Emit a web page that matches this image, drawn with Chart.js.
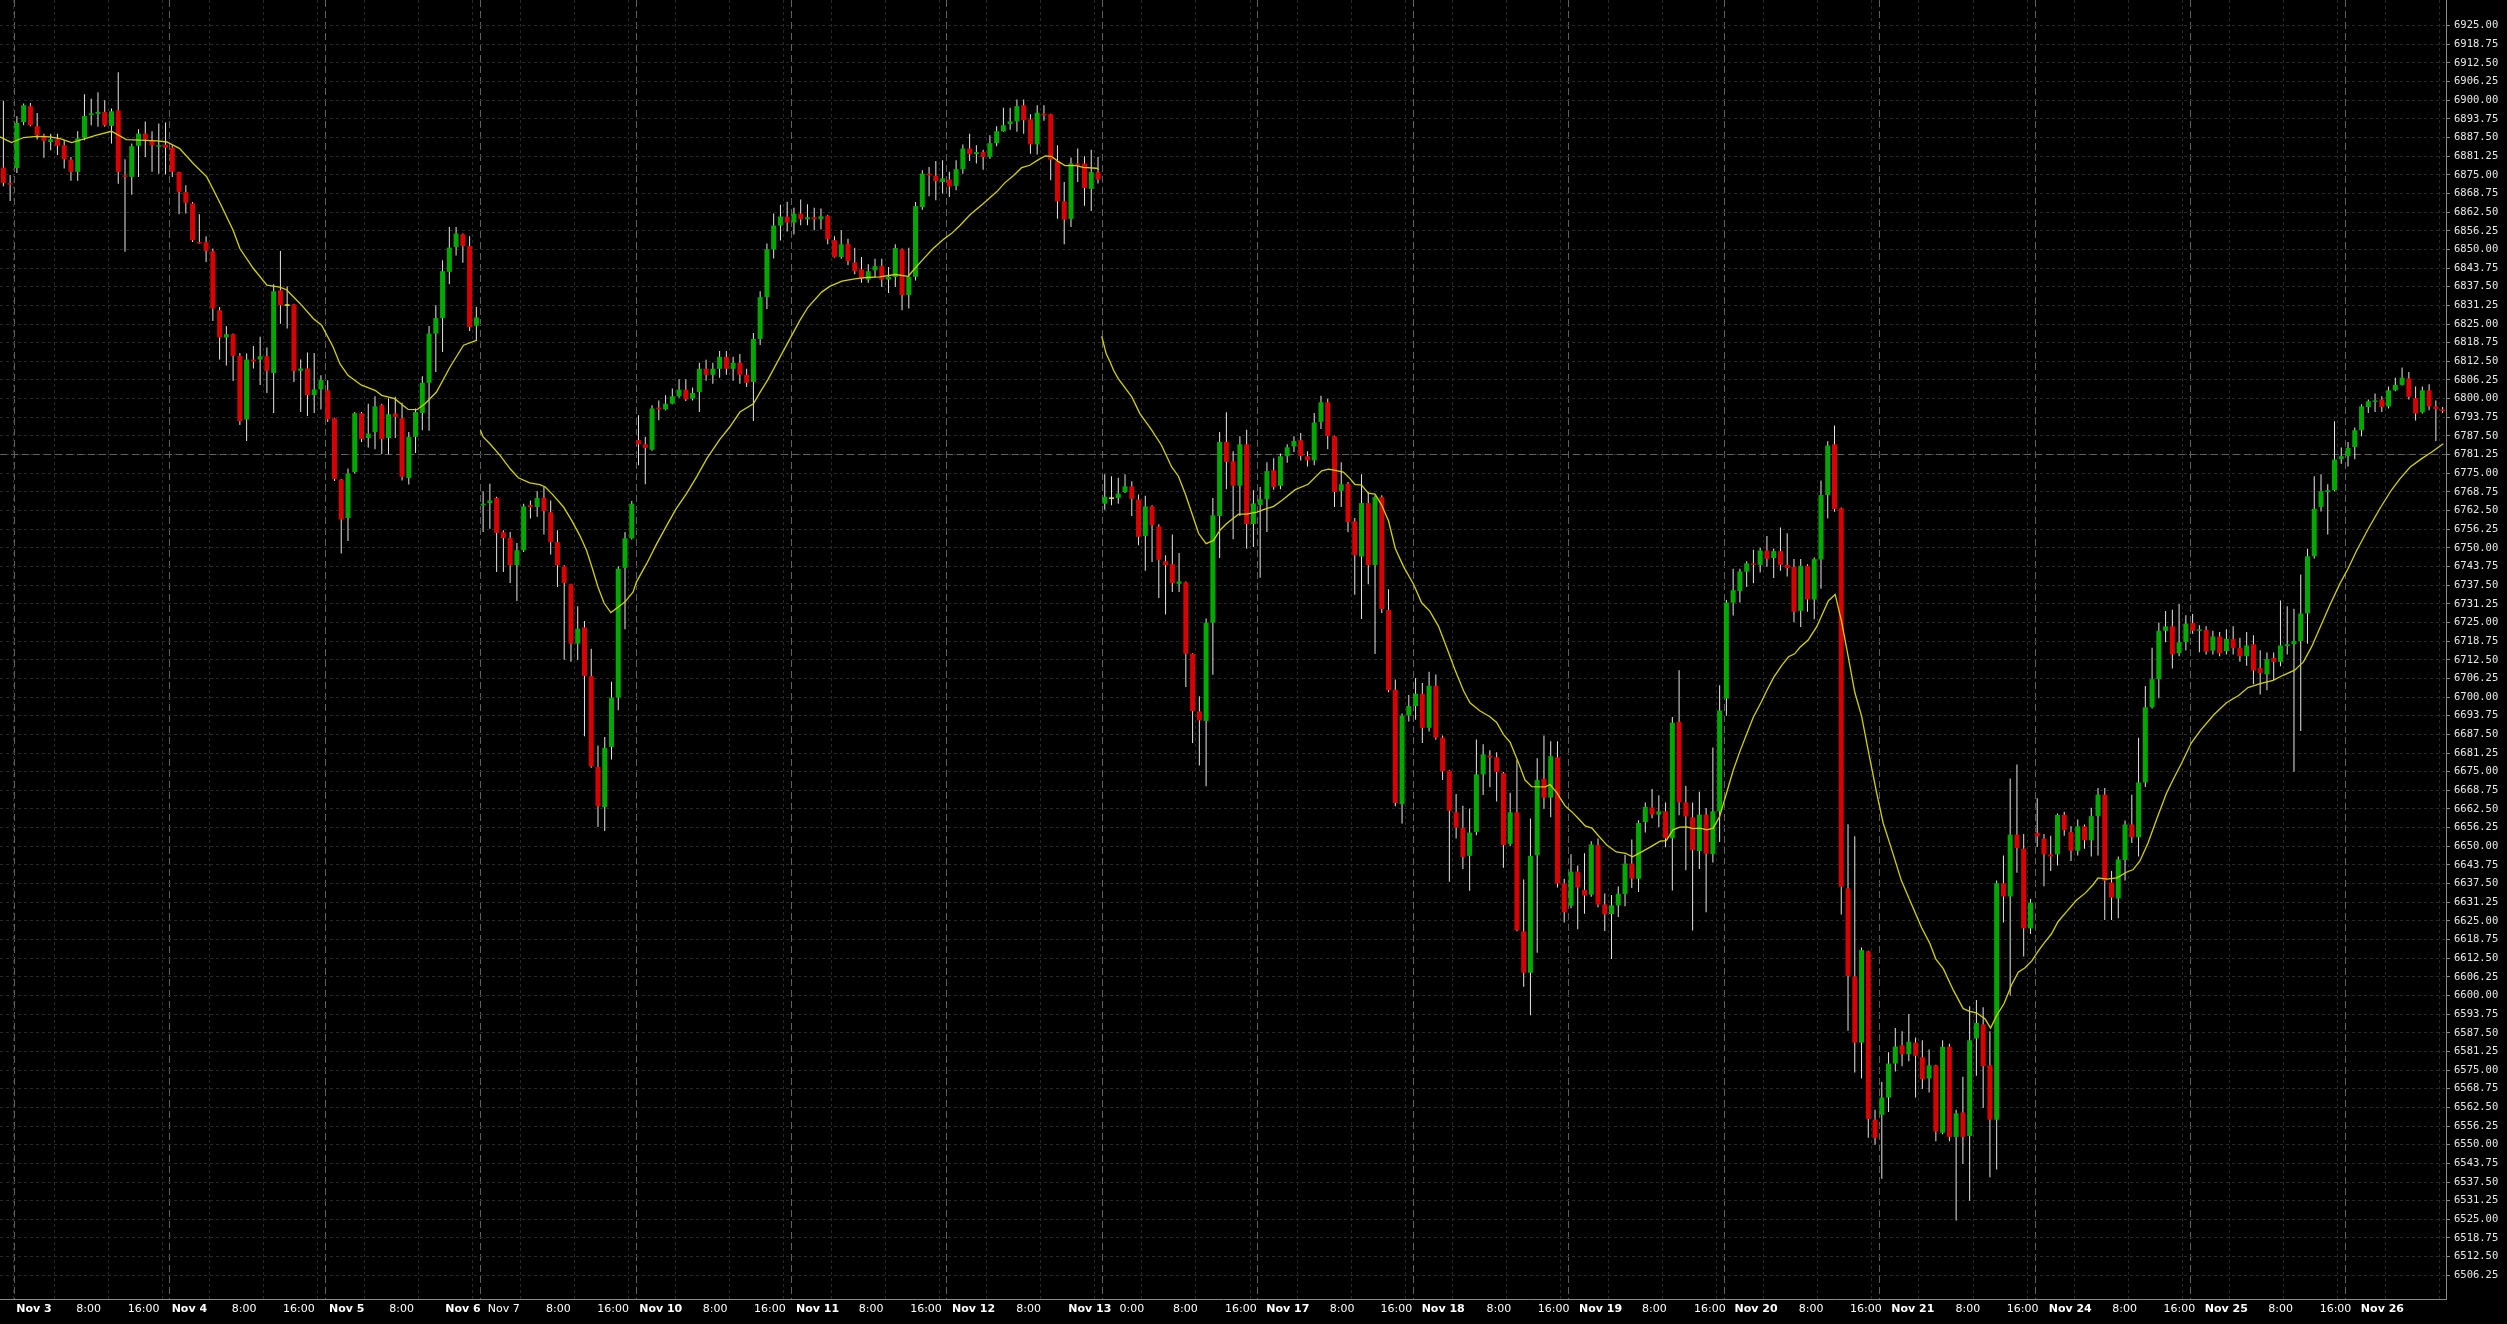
<!DOCTYPE html>
<html>
<head>
<meta charset="utf-8">
<script src="https://cdn.jsdelivr.net/npm/chart.js@4.4.1/dist/chart.umd.min.js"></script>
<style>
  html, body { margin: 0; padding: 0; background: #000; overflow: hidden; }
  canvas { display: block; background: #000; }
</style>
</head>
<body>
<canvas id="candles" width="2507" height="1324"></canvas>
<script>
// hourly bars, index 0..361
const opens = [
  6877.4, 6872.2, 6877.3, 6892.7, 6898.0, 6891.3, 6888.1, 6886.0, 6886.9, 6884.9,
  6880.1, 6876.0, 6887.4, 6895.0, 6895.4, 6896.1, 6891.4, 6896.6, 6874.7, 6874.3,
  6884.7, 6888.8, 6886.4, 6884.4, 6885.1, 6884.1, 6875.9, 6869.2, 6865.4, 6852.5,
  6852.4, 6849.4, 6829.6, 6820.5, 6821.6, 6814.3, 6793.0, 6813.1, 6813.1, 6814.2,
  6808.6, 6836.3, 6831.1, 6831.6, 6809.3, 6810.1, 6801.2, 6803.1, 6802.8, 6793.4,
  6772.9, 6760.0, 6775.4, 6795.1, 6786.8, 6788.8, 6797.8, 6786.8, 6795.0, 6793.4,
  6773.4, 6787.2, 6795.2, 6805.3, 6821.8, 6827.0, 6842.5, 6850.8, 6855.1, 6851.1,
  6824.4, 6764.2, 6765.0, 6766.7, 6755.2, 6753.3, 6744.2, 6749.2, 6764.3, 6763.7,
  6766.8, 6761.9, 6751.9, 6743.8, 6737.8, 6717.9, 6723.3, 6707.0, 6676.6, 6663.1,
  6683.3, 6699.8, 6743.3, 6753.2, 6786.1, 6784.7, 6782.9, 6797.0, 6796.4, 6798.3,
  6800.8, 6803.0, 6800.0, 6802.2, 6810.0, 6808.0, 6810.0, 6814.0, 6810.0, 6812.0,
  6808.0, 6805.6, 6820.0, 6834.0, 6850.0, 6858.0, 6861.0, 6859.0, 6862.0, 6860.1,
  6860.8, 6860.1, 6861.3, 6853.1, 6847.5, 6851.9, 6845.6, 6843.3, 6839.9, 6843.0,
  6844.4, 6839.9, 6840.8, 6850.0, 6834.7, 6840.8, 6864.2, 6875.4, 6874.7, 6872.6,
  6873.4, 6871.3, 6876.9, 6883.8, 6881.9, 6882.6, 6881.0, 6885.6, 6889.6, 6892.0,
  6892.9, 6898.3, 6893.6, 6885.2, 6895.5, 6895.3, 6879.5, 6866.1, 6860.2, 6878.8,
  6878.8, 6870.3, 6875.9, 6764.8, 6766.4, 6766.7, 6768.7, 6770.6, 6766.2, 6754.0,
  6763.9, 6757.2, 6745.5, 6744.5, 6737.9, 6738.5, 6714.5, 6695.2, 6692.0, 6724.9,
  6760.7, 6785.5, 6779.0, 6770.8, 6784.7, 6758.0, 6764.4, 6766.3, 6776.0, 6770.8,
  6780.7, 6784.0, 6786.1, 6780.7, 6779.3, 6792.2, 6798.8, 6787.4, 6769.1, 6771.5,
  6758.9, 6747.1, 6765.0, 6744.2, 6767.0, 6729.2, 6702.4, 6664.1, 6693.8, 6697.0,
  6701.1, 6689.7, 6703.8, 6686.4, 6675.3, 6661.4, 6656.1, 6646.8, 6654.8, 6674.1,
  6680.4, 6679.8, 6674.5, 6650.8, 6661.4, 6621.5, 6607.6, 6647.0, 6672.6, 6666.3,
  6679.8, 6637.5, 6630.1, 6641.5, 6635.4, 6633.8, 6650.4, 6630.5, 6627.3, 6630.2,
  6634.0, 6644.2, 6639.1, 6658.1, 6663.0, 6660.6, 6661.7, 6652.7, 6691.7, 6664.7,
  6659.7, 6648.4, 6660.6, 6647.4, 6661.7, 6699.5, 6731.6, 6735.5, 6742.0, 6744.8,
  6744.3, 6749.1, 6746.6, 6748.9, 6744.3, 6743.6, 6728.9, 6744.0, 6732.7, 6746.1,
  6767.7, 6784.7, 6763.3, 6635.9, 6606.4, 6584.2, 6614.8, 6558.4, 6560.0, 6565.8,
  6577.2, 6583.3, 6580.3, 6584.2, 6579.3, 6572.2, 6576.6, 6554.0, 6582.8, 6552.6,
  6560.8, 6552.9, 6585.6, 6590.3, 6576.6, 6558.4, 6637.6, 6633.2, 6653.9, 6649.2,
  6622.5, 6654.5, 6652.6, 6647.3, 6647.3, 6660.5, 6654.8, 6648.5, 6656.7, 6652.0,
  6660.1, 6667.3, 6637.9, 6632.5, 6645.4, 6657.3, 6653.0, 6671.4, 6696.6, 6706.0,
  6722.2, 6723.7, 6714.7, 6718.4, 6724.8, 6722.2, 6722.5, 6715.6, 6720.3, 6715.4,
  6719.4, 6716.5, 6713.7, 6717.7, 6709.7, 6707.6, 6713.1, 6711.8, 6717.1, 6717.7,
  6718.8, 6728.0, 6747.2, 6763.7, 6768.7, 6769.3, 6779.7, 6780.7, 6783.8, 6789.4,
  6797.2, 6798.9, 6799.7, 6797.4, 6802.8, 6804.6, 6806.8, 6800.2, 6795.4, 6802.8,
  6797.4, 6796.4
];
const highs = [
  6899.8, 6874.9, 6894.6, 6898.9, 6899.1, 6895.7, 6888.8, 6888.8, 6888.8, 6886.6,
  6881.0, 6889.6, 6902.0, 6900.5, 6902.7, 6900.0, 6897.2, 6909.4, 6880.2, 6885.5,
  6890.3, 6892.9, 6889.6, 6892.2, 6892.5, 6884.9, 6876.0, 6871.5, 6865.9, 6861.8,
  6854.4, 6850.3, 6830.7, 6824.3, 6821.8, 6815.3, 6815.1, 6817.6, 6820.7, 6817.1,
  6838.3, 6849.5, 6837.7, 6831.8, 6813.1, 6815.5, 6815.3, 6807.8, 6806.2, 6793.6,
  6773.1, 6776.6, 6795.5, 6795.5, 6798.3, 6800.8, 6798.3, 6800.1, 6800.6, 6798.6,
  6788.8, 6796.7, 6807.5, 6824.3, 6831.3, 6846.4, 6857.5, 6857.5, 6855.3, 6854.4,
  6830.7, 6769.0, 6771.5, 6767.1, 6755.9, 6755.3, 6751.6, 6764.8, 6765.9, 6769.0,
  6770.4, 6765.9, 6755.9, 6744.2, 6738.0, 6730.4, 6725.5, 6716.2, 6683.8, 6686.6,
  6705.1, 6743.8, 6755.3, 6765.7, 6794.4, 6787.2, 6797.8, 6799.4, 6801.1, 6803.4,
  6806.5, 6806.5, 6803.7, 6812.0, 6813.0, 6812.0, 6816.0, 6816.0, 6814.0, 6815.0,
  6810.0, 6822.0, 6836.0, 6852.0, 6862.0, 6865.0, 6866.0, 6864.0, 6866.7, 6865.1,
  6864.0, 6863.7, 6861.5, 6854.4, 6856.4, 6853.6, 6850.6, 6847.5, 6845.0, 6846.9,
  6846.9, 6844.1, 6851.7, 6850.3, 6850.6, 6865.9, 6876.5, 6877.6, 6879.6, 6879.9,
  6876.0, 6879.9, 6885.2, 6888.8, 6884.9, 6883.4, 6888.3, 6891.3, 6897.5, 6897.5,
  6900.2, 6900.2, 6895.3, 6898.3, 6898.3, 6895.5, 6884.9, 6872.6, 6880.8, 6883.8,
  6881.2, 6883.4, 6881.0, 6774.7, 6774.0, 6773.5, 6774.7, 6772.3, 6767.9, 6767.5,
  6764.3, 6757.9, 6747.5, 6754.5, 6748.3, 6738.7, 6714.7, 6700.3, 6726.3, 6766.7,
  6788.8, 6795.4, 6782.4, 6787.4, 6789.6, 6769.3, 6770.4, 6778.7, 6780.0, 6781.6,
  6784.7, 6787.4, 6788.5, 6782.4, 6795.2, 6801.0, 6800.0, 6787.6, 6778.7, 6772.1,
  6760.0, 6774.7, 6768.7, 6767.6, 6767.6, 6736.1, 6705.9, 6694.5, 6700.7, 6706.4,
  6704.7, 6708.5, 6707.6, 6687.1, 6675.5, 6667.5, 6663.6, 6662.7, 6685.8, 6684.2,
  6682.2, 6681.5, 6674.9, 6667.9, 6679.1, 6638.9, 6659.3, 6679.5, 6687.1, 6685.2,
  6685.2, 6639.1, 6647.3, 6643.6, 6647.7, 6651.7, 6652.6, 6634.2, 6633.7, 6636.5,
  6647.2, 6652.3, 6658.7, 6664.7, 6669.2, 6667.1, 6664.7, 6693.3, 6709.0, 6670.3,
  6664.7, 6668.3, 6662.8, 6683.1, 6704.0, 6732.5, 6743.0, 6743.0, 6745.5, 6749.4,
  6750.0, 6754.0, 6749.8, 6756.8, 6754.9, 6746.3, 6746.3, 6744.5, 6746.8, 6772.6,
  6785.7, 6791.0, 6763.5, 6657.4, 6653.4, 6616.1, 6615.0, 6561.7, 6571.0, 6581.0,
  6589.1, 6588.0, 6593.8, 6585.9, 6585.0, 6581.9, 6576.8, 6585.0, 6583.8, 6561.7,
  6572.8, 6596.4, 6598.5, 6596.1, 6588.0, 6638.5, 6646.9, 6672.7, 6677.4, 6654.1,
  6632.3, 6666.1, 6654.1, 6653.5, 6661.0, 6661.6, 6656.7, 6659.0, 6657.3, 6662.9,
  6669.5, 6669.5, 6641.7, 6646.6, 6658.6, 6667.3, 6686.4, 6703.7, 6716.5, 6725.0,
  6728.8, 6729.3, 6731.2, 6727.4, 6727.8, 6724.1, 6723.7, 6722.2, 6721.8, 6722.7,
  6723.7, 6719.9, 6721.8, 6720.7, 6715.7, 6714.9, 6714.9, 6732.4, 6730.4, 6729.6,
  6741.1, 6749.7, 6774.0, 6774.7, 6771.3, 6792.4, 6783.6, 6785.5, 6790.3, 6798.1,
  6799.7, 6801.7, 6800.8, 6804.1, 6807.0, 6810.4, 6808.9, 6804.1, 6804.1, 6804.8,
  6799.4, 6797.2
];
const lows = [
  6871.2, 6866.2, 6875.6, 6891.6, 6891.3, 6886.8, 6880.7, 6883.2, 6881.6, 6877.1,
  6873.0, 6873.0, 6886.6, 6891.6, 6891.1, 6891.1, 6885.5, 6872.0, 6849.2, 6868.3,
  6874.3, 6881.0, 6876.0, 6875.4, 6875.1, 6874.3, 6861.8, 6862.0, 6852.5, 6851.9,
  6845.8, 6826.0, 6813.1, 6811.1, 6805.9, 6791.2, 6785.8, 6810.1, 6804.6, 6801.9,
  6795.2, 6825.1, 6823.5, 6805.6, 6795.5, 6794.2, 6795.2, 6796.4, 6792.2, 6772.4,
  6748.1, 6752.3, 6774.9, 6785.5, 6783.6, 6783.0, 6781.4, 6781.4, 6786.8, 6772.6,
  6771.2, 6781.8, 6789.4, 6789.2, 6808.9, 6815.6, 6838.3, 6848.0, 6845.5, 6822.7,
  6819.6, 6755.3, 6756.4, 6741.9, 6741.9, 6738.2, 6732.2, 6748.6, 6759.8, 6760.4,
  6754.5, 6747.8, 6736.9, 6712.5, 6711.8, 6712.5, 6686.9, 6676.3, 6656.5, 6655.1,
  6679.1, 6695.6, 6722.7, 6752.8, 6777.7, 6771.3, 6782.5, 6792.8, 6796.1, 6798.1,
  6800.3, 6799.2, 6799.4, 6795.5, 6806.0, 6805.0, 6807.0, 6808.0, 6806.0, 6805.0,
  6803.9, 6792.5, 6818.0, 6830.0, 6847.0, 6853.0, 6856.0, 6855.0, 6858.1, 6858.1,
  6856.4, 6856.7, 6851.7, 6847.3, 6846.9, 6844.7, 6841.7, 6838.8, 6838.8, 6840.8,
  6837.4, 6835.4, 6837.4, 6829.6, 6830.2, 6839.6, 6863.3, 6867.8, 6866.5, 6868.7,
  6867.6, 6869.8, 6875.4, 6879.6, 6878.8, 6876.7, 6880.4, 6884.6, 6889.4, 6890.1,
  6889.4, 6888.8, 6882.1, 6881.8, 6893.1, 6873.2, 6860.3, 6851.7, 6857.5, 6872.6,
  6864.6, 6862.9, 6872.1, 6762.8, 6764.3, 6764.8, 6768.4, 6760.7, 6750.9, 6742.3,
  6745.3, 6733.2, 6727.7, 6735.2, 6735.2, 6703.4, 6684.6, 6677.1, 6670.1, 6707.5,
  6746.6, 6769.6, 6752.9, 6760.7, 6749.7, 6750.3, 6740.0, 6755.3, 6769.5, 6769.6,
  6778.5, 6782.1, 6779.3, 6777.3, 6777.7, 6789.8, 6783.0, 6763.7, 6763.7, 6755.2,
  6734.3, 6726.2, 6737.8, 6714.4, 6728.2, 6701.6, 6663.4, 6657.6, 6691.8, 6692.4,
  6684.6, 6688.5, 6685.7, 6672.2, 6638.1, 6652.6, 6642.4, 6635.1, 6653.7, 6667.2,
  6669.8, 6665.0, 6642.8, 6650.0, 6621.5, 6602.9, 6593.4, 6614.3, 6662.6, 6659.7,
  6636.2, 6624.5, 6629.2, 6622.2, 6627.4, 6633.1, 6629.6, 6621.6, 6612.2, 6626.3,
  6629.9, 6636.0, 6634.7, 6654.6, 6659.4, 6656.4, 6649.7, 6635.2, 6660.4, 6642.0,
  6621.8, 6642.4, 6627.9, 6644.6, 6651.4, 6693.7, 6727.3, 6731.7, 6736.9, 6738.1,
  6741.7, 6743.7, 6739.9, 6742.3, 6740.4, 6725.1, 6723.5, 6728.6, 6726.1, 6736.3,
  6759.8, 6762.1, 6627.1, 6588.2, 6574.2, 6572.2, 6552.3, 6550.0, 6538.6, 6561.0,
  6574.5, 6576.3, 6578.0, 6565.8, 6568.7, 6567.5, 6551.2, 6553.5, 6551.2, 6524.6,
  6543.5, 6531.2, 6573.1, 6562.3, 6539.1, 6541.7, 6624.5, 6600.0, 6641.1, 6613.1,
  6620.6, 6649.8, 6636.6, 6641.7, 6643.6, 6653.5, 6645.1, 6646.9, 6649.2, 6646.6,
  6646.9, 6625.3, 6625.3, 6625.9, 6638.5, 6651.1, 6646.6, 6669.9, 6696.2, 6699.6,
  6718.4, 6709.6, 6713.7, 6715.6, 6721.2, 6715.0, 6714.3, 6714.3, 6713.7, 6714.3,
  6714.3, 6711.8, 6710.5, 6704.3, 6700.9, 6702.3, 6705.6, 6710.3, 6714.3, 6675.0,
  6688.6, 6717.9, 6746.4, 6762.2, 6754.5, 6769.0, 6778.2, 6777.3, 6779.7, 6787.4,
  6795.2, 6795.5, 6795.5, 6796.7, 6802.5, 6804.4, 6799.7, 6792.7, 6795.0, 6796.1,
  6785.8, 6795.2
];
const closes = [
  6872.3, 6871.7, 6892.4, 6898.3, 6891.6, 6888.3, 6886.4, 6886.9, 6884.7, 6880.2,
  6876.0, 6887.2, 6894.7, 6895.6, 6896.1, 6891.6, 6896.3, 6876.0, 6874.3, 6884.6,
  6888.8, 6886.8, 6884.9, 6884.9, 6884.1, 6876.0, 6869.3, 6865.6, 6853.1, 6852.0,
  6849.5, 6830.2, 6820.5, 6821.6, 6814.3, 6792.5, 6813.1, 6812.4, 6814.2, 6809.3,
  6836.0, 6831.3, 6831.1, 6809.3, 6810.1, 6801.2, 6803.1, 6806.2, 6793.1, 6773.1,
  6759.5, 6774.9, 6795.1, 6786.5, 6788.3, 6797.4, 6786.5, 6794.8, 6793.9, 6773.8,
  6787.2, 6795.5, 6805.3, 6821.8, 6827.0, 6842.7, 6850.6, 6855.3, 6851.1, 6824.0,
  6827.2, 6764.8, 6765.9, 6755.0, 6753.3, 6744.2, 6749.2, 6763.9, 6763.6, 6766.7,
  6762.4, 6752.0, 6744.2, 6738.2, 6717.9, 6722.9, 6707.1, 6676.8, 6663.4, 6683.0,
  6699.8, 6743.0, 6753.2, 6764.8, 6784.7, 6783.5, 6796.7, 6796.4, 6798.3, 6800.8,
  6803.0, 6799.8, 6801.9, 6810.0, 6808.0, 6810.0, 6814.0, 6810.0, 6812.0, 6808.0,
  6805.3, 6820.0, 6834.0, 6850.0, 6858.0, 6861.0, 6859.0, 6862.0, 6860.1, 6860.8,
  6860.1, 6861.1, 6853.4, 6847.5, 6851.7, 6846.1, 6842.7, 6840.2, 6842.7, 6844.4,
  6839.9, 6840.8, 6850.5, 6834.7, 6840.8, 6864.5, 6875.4, 6874.8, 6872.9, 6873.8,
  6871.1, 6876.9, 6883.8, 6881.9, 6882.6, 6881.0, 6885.6, 6889.6, 6891.6, 6892.9,
  6898.0, 6893.3, 6885.2, 6895.8, 6894.9, 6880.1, 6866.1, 6860.0, 6878.8, 6878.1,
  6870.6, 6875.9, 6873.4, 6767.1, 6766.4, 6768.2, 6770.6, 6766.4, 6753.7, 6763.9,
  6757.6, 6746.0, 6744.2, 6738.2, 6738.8, 6714.5, 6695.3, 6692.2, 6724.9, 6760.9,
  6785.5, 6778.8, 6770.8, 6784.7, 6758.0, 6764.9, 6766.3, 6775.7, 6770.4, 6780.7,
  6783.7, 6785.8, 6780.8, 6779.3, 6792.0, 6798.8, 6787.5, 6768.7, 6771.3, 6758.7,
  6747.5, 6765.0, 6744.2, 6767.0, 6729.5, 6702.3, 6664.5, 6693.8, 6697.0, 6701.1,
  6689.7, 6703.8, 6686.4, 6675.1, 6661.9, 6656.3, 6646.4, 6654.6, 6674.1, 6680.8,
  6679.8, 6674.9, 6650.4, 6661.4, 6621.9, 6607.6, 6646.8, 6672.2, 6666.3, 6680.2,
  6637.5, 6627.9, 6641.5, 6636.2, 6633.5, 6650.6, 6630.5, 6627.2, 6630.2, 6634.1,
  6644.2, 6639.2, 6657.8, 6663.2, 6660.6, 6661.7, 6652.7, 6691.4, 6664.7, 6660.0,
  6648.7, 6660.6, 6647.5, 6661.7, 6695.5, 6731.7, 6735.8, 6742.1, 6744.8, 6744.3,
  6749.1, 6746.3, 6748.9, 6744.3, 6743.2, 6728.6, 6744.0, 6732.7, 6746.2, 6767.7,
  6784.3, 6763.0, 6636.4, 6606.6, 6584.2, 6615.2, 6558.6, 6552.3, 6565.8, 6577.2,
  6582.9, 6580.3, 6584.5, 6579.8, 6571.9, 6576.6, 6554.4, 6582.8, 6552.6, 6560.5,
  6552.6, 6585.0, 6590.8, 6576.3, 6558.4, 6637.6, 6633.2, 6653.9, 6649.4, 6622.5,
  6631.1, 6653.3, 6647.3, 6646.6, 6660.5, 6655.4, 6648.5, 6656.7, 6652.0, 6660.1,
  6667.3, 6638.5, 6632.8, 6645.6, 6657.3, 6653.0, 6671.4, 6696.6, 6706.0, 6722.2,
  6723.7, 6714.3, 6718.4, 6724.6, 6722.2, 6722.7, 6715.2, 6720.3, 6714.7, 6719.5,
  6716.5, 6713.7, 6717.3, 6708.9, 6708.1, 6712.7, 6711.8, 6717.3, 6717.7, 6718.8,
  6728.0, 6747.2, 6763.1, 6769.0, 6769.3, 6779.6, 6780.7, 6783.5, 6789.4, 6797.4,
  6799.1, 6799.4, 6797.2, 6802.8, 6804.6, 6807.0, 6800.6, 6795.0, 6802.8, 6797.4,
  6796.5, 6795.8
];

// moving average (bar position, value); null = break
const maBars = [
  -0.5, 1.2, 3.0, 4.9, 6.9, 8.4, 10.1, 11.6, 13.8, 16.0, 18.2, 20.2, 22.7, 24.2, 26.1, 28.1, 30.1, 32.1, 34.0, 35.0,
  37.0, 39.0, 40.9, 41.9, 43.9, 45.9, 47.1, 48.8, 49.8, 51.0, 53.0, 55.0, 56.0, 57.9, 59.9, 61.2, 62.4, 64.1, 66.1, 68.1,
  70.1, 70.4,
  70.6, 71.0, 72.0, 73.5, 75.0, 76.2, 77.9, 79.4, 80.2, 81.4, 82.9, 84.1, 85.3, 86.3, 87.1, 88.0, 88.9, 89.9, 91.0, 92.0,
  93.2, 93.7, 95.2, 96.7, 98.2, 99.6, 101.1, 102.6, 104.1, 106.0, 107.5, 109.0, 111.0, 112.0, 113.1, 117.9, 119.1, 121.1,
  122.3, 124.1, 126.0, 127.8, 129.7, 132.0, 133.9, 134.9, 136.2, 137.6, 139.1, 140.3, 141.6, 143.1, 145.0, 147.0, 148.2,
  149.5, 150.7, 151.9, 153.2, 154.2, 155.1, 156.1, 157.1, 158.8, 159.8, 161.8, 162.1, 162.3,
  162.55, 163.2, 163.8, 164.3, 165.0, 167.0, 168.2, 169.9, 171.4, 172.9, 173.9, 174.9, 175.9, 176.9, 178.0, 179.1, 180.05,
  181.0, 182.8, 184.0, 185.5, 186.5, 188.0, 189.2, 191.2, 193.1, 195.1, 196.1, 197.1, 198.3, 199.3, 200.0, 201.0, 202.0,
  203.0, 204.0, 205.0, 206.0, 207.2, 208.7, 209.9, 211.1, 212.4, 213.6, 214.8, 216.1, 217.05, 218.5, 220.0, 221.0, 222.0,
  223.0, 224.2, 225.2, 226.2, 228.2, 228.9, 229.9, 231.1, 232.1, 233.1, 234.1, 235.1, 236.0, 237.3, 238.7, 240.1, 241.1,
  242.2, 243.7, 245.2, 246.1, 247.1, 248.1, 249.1, 250.1, 251.1, 252.1, 253.05, 254.0, 255.0, 256.0, 257.0, 258.0, 259.0,
  260.2, 261.0, 262.0, 263.2, 264.2, 265.1, 265.9, 267.1, 268.35, 270.1, 271.1, 272.05, 273.0, 274.0, 275.0, 276.2, 277.2,
  278.2, 279.2, 280.9, 282.4, 283.9, 285.1, 286.0, 287.1, 288.6, 290.05, 291.0, 292.0, 293.3, 294.1, 295.0, 296.1, 297.2,
  298.2, 299.2, 300.2, 301.2, 302.1, 303.1, 304.1, 305.35, 306.8, 308.1, 309.3, 310.0, 311.3, 312.8, 314.2, 315.2, 316.2,
  317.4, 318.7, 320.1, 321.1, 322.4, 323.8, 325.1, 327.1, 329.0, 330.8, 332.2, 334.0, 335.9, 337.4, 339.1, 340.4, 341.6,
  343.1, 344.3, 345.8, 347.0, 348.3, 350.0, 351.7, 353.4, 354.7, 356.2, 357.9, 359.4, 361.1
];
const maValues = [
  6887.7, 6885.8, 6887.5, 6887.9, 6887.7, 6887.1, 6885.8, 6886.8, 6888.3, 6889.6, 6886.8, 6886.6, 6886.4, 6886.0, 6883.8, 6878.8, 6874.3, 6865.4, 6856.4, 6850.3,
  6843.6, 6838.0, 6837.4, 6836.5, 6831.9, 6826.8, 6824.6, 6817.3, 6811.7, 6807.8, 6804.5, 6802.8, 6801.1, 6800.0, 6796.4, 6796.3, 6798.3, 6802.2, 6810.6, 6817.9,
  6819.6, null,
  6789.4, 6787.2, 6784.9, 6781.0, 6776.5, 6773.5, 6771.8, 6771.2, 6770.4, 6767.6, 6763.7, 6759.2, 6754.2, 6749.2, 6743.6, 6736.9, 6731.5, 6728.3, 6730.2, 6731.9,
  6735.2, 6738.6, 6744.7, 6751.4, 6757.6, 6763.2, 6768.2, 6773.8, 6779.9, 6786.3, 6790.5, 6795.5, 6798.3, 6802.2, 6806.2, 6826.3, 6830.7, 6835.7,
  6837.6, 6839.4, 6840.1, 6840.6, 6840.8, 6841.6, 6841.0, 6843.6, 6846.9, 6850.3, 6853.3, 6855.3, 6858.1, 6861.7, 6865.3, 6869.3, 6872.3,
  6874.8, 6877.4, 6878.2, 6880.1, 6881.3, 6881.2, 6879.5, 6878.1, 6878.1, 6877.5, 6877.2, 6876.8, null,
  6820.9, 6815.1, 6812.3, 6809.5, 6806.7, 6800.6, 6795.0, 6789.6, 6784.4, 6777.1, 6774.0, 6768.2, 6761.5, 6754.8, 6751.4, 6752.5, 6755.9,
  6758.1, 6761.3, 6761.3, 6762.0, 6762.8, 6763.9, 6765.9, 6769.5, 6771.3, 6775.8, 6776.4, 6776.0, 6775.4, 6773.2, 6771.3, 6771.0, 6768.3,
  6768.0, 6764.3, 6759.0, 6749.8, 6743.8, 6737.8, 6731.6, 6728.8, 6723.7, 6716.6, 6709.3, 6702.1, 6698.1, 6695.4, 6693.4, 6691.5, 6687.5,
  6684.8, 6678.2, 6672.2, 6670.0, 6669.9, 6670.7, 6668.0, 6663.6, 6661.6, 6659.3, 6656.8, 6656.1, 6653.7, 6650.4, 6648.1, 6647.6, 6646.5,
  6647.8, 6649.7, 6651.7, 6651.9, 6655.5, 6656.4, 6656.5, 6655.9, 6656.1, 6655.5, 6656.1, 6660.0, 6667.7, 6675.4, 6681.8, 6687.6, 6693.3,
  6698.5, 6702.3, 6706.6, 6710.6, 6713.5, 6714.5, 6716.7, 6719.1, 6723.5, 6732.3, 6734.4, 6725.3, 6713.9, 6701.6, 6693.7, 6679.7, 6668.3,
  6657.8, 6650.8, 6638.5, 6630.6, 6622.7, 6617.5, 6612.2, 6609.0, 6601.7, 6595.6, 6594.7, 6594.2, 6592.1, 6589.1, 6593.3, 6597.3, 6603.5,
  6607.8, 6609.3, 6611.6, 6615.0, 6617.8, 6620.6, 6624.8, 6628.1, 6631.9, 6634.3, 6637.2, 6639.4, 6639.0, 6639.4, 6641.3, 6642.2, 6645.1,
  6651.1, 6659.2, 6667.6, 6672.3, 6678.0, 6684.6, 6688.7, 6694.0, 6698.1, 6700.5, 6703.2, 6704.5, 6705.6, 6707.3, 6709.0, 6711.8, 6716.8,
  6724.6, 6730.8, 6738.0, 6743.0, 6749.2, 6756.4, 6763.1, 6769.3, 6773.2, 6777.1, 6779.9, 6782.1, 6784.9
];

// time axis: label text and the bar position where each label starts
const tickLabels = [
  'Nov 3', '8:00', '16:00', 'Nov 4', '8:00', '16:00', 'Nov 5', '8:00', 'Nov 6', 'Nov 7', '8:00', '16:00',
  'Nov 10', '8:00', '16:00', 'Nov 11', '8:00', '16:00', 'Nov 12', '8:00', 'Nov 13', '0:00', '8:00', '16:00',
  'Nov 17', '8:00', '16:00', 'Nov 18', '8:00', '16:00', 'Nov 19', '8:00', '16:00', 'Nov 20', '8:00', '16:00',
  'Nov 21', '8:00', '16:00', 'Nov 24', '8:00', '16:00', 'Nov 25', '8:00', '16:00', 'Nov 26'
];
const tickBars = [
  1.9, 10.8, 18.4, 24.9, 33.8, 41.4, 48.2, 57.1, 65.4, 71.7, 80.3, 87.9,
  94.1, 103.5, 111.1, 117.3, 126.6, 134.2, 140.4, 149.9, 157.6, 165.2, 173.1, 180.8,
  186.9, 196.3, 203.8, 209.9, 219.5, 227.1, 233.2, 242.5, 250.2, 256.2, 265.7, 273.3,
  279.4, 288.9, 296.5, 302.7, 312.1, 319.7, 325.8, 335.2, 342.8, 348.9
];
const gridBars = [
  1.5, 7.5, 15.5, 23.5, 30.5, 38.5, 46.5, 53.5, 61.5, 69.5, 76.5, 84.5, 92.5, 99.5, 107.5, 115.5,
  122.5, 130.5, 138.5, 145.5, 153.5, 161.5, 168.5, 176.5, 184.5, 191.5, 199.5, 207.5, 214.5, 222.5,
  230.5, 237.5, 245.5, 253.5, 260.5, 268.5, 276.5, 283.5, 291.5, 299.5, 306.5, 314.5, 322.5, 329.5,
  337.5, 345.5, 352.5, 360.5
];
const daySeparators = [
  1.6, 24.6, 47.6, 70.6, 93.7, 116.7, 139.6, 162.7, 185.6, 208.7, 231.6, 254.7, 277.6, 300.8, 323.7, 346.7
];
const priceFirst = 6506.25, priceLast = 6925.0, priceStep = 6.25;
const markedPrice = 6781.25;

document.addEventListener('DOMContentLoaded', () => {
    const up = '#00a800', down = '#d80000', flat = '#f0f000';
    const yMin = 6498.3, yMax = 6933.58;

    const xTicks = gridBars.map(v => ({ value: v, label: '', grid: true }))
        .concat(tickBars.map((v, i) => ({ value: v, label: tickLabels[i], grid: false })))
        .sort((a, b) => a.value - b.value);

    const priceTicks = [];
    for (let p = priceFirst; p <= priceLast + 0.001; p += priceStep) priceTicks.push({ value: p });

    const noPad = s => { s.paddingLeft = 0; s.paddingRight = 0; s.paddingTop = 0; s.paddingBottom = 0; };

    const bodyColor = ctx => {
        const i = ctx.dataIndex;
        if (i === undefined) return up;
        if (closes[i] > opens[i]) return up;
        if (closes[i] < opens[i]) return down;
        return flat;
    };

    const ctx = document.getElementById('candles').getContext('2d');
    const chart = new Chart(ctx, {
        type: 'bar',
        data: {
            datasets: [{
                type: 'line',
                label: 'MA',
                data: maBars.map((b, i) => ({ x: b, y: maValues[i] })),
                borderColor: '#d2d200',
                borderWidth: 1.3,
                pointRadius: 0,
                tension: 0,
                spanGaps: false,
                order: 0,
                xAxisID: 'x', yAxisID: 'y'
            }, {
                label: 'body',
                data: opens.map((o, i) => ({ x: i, y: [o, closes[i]] })),
                backgroundColor: bodyColor,
                barThickness: 5,
                minBarLength: 1.5,
                grouped: false,
                borderWidth: 0,
                inflateAmount: 0,
                order: 1,
                xAxisID: 'x', yAxisID: 'y'
            }, {
                label: 'wick',
                data: lows.map((l, i) => ({
                    x: i,
                    y: [Math.min(l, opens[i], closes[i]), Math.max(highs[i], opens[i], closes[i])]
                })),
                backgroundColor: '#e6e6e6',
                barThickness: 1,
                grouped: false,
                borderWidth: 0,
                inflateAmount: 0,
                order: 2,
                xAxisID: 'x', yAxisID: 'y'
            }]
        },
        options: {
            responsive: false,
            devicePixelRatio: 1,
            animation: false,
            events: [],
            layout: { padding: 0 },
            plugins: { legend: { display: false }, tooltip: { enabled: false } },
            scales: {
                x: {
                    type: 'linear',
                    position: 'bottom',
                    offset: false,
                    bounds: 'data',
                    min: -0.5, max: 361.5,
                    afterBuildTicks: s => { s.ticks = xTicks.map(t => ({ value: t.value })); },
                    afterFit: s => { s.height = 25; noPad(s); },
                    grid: {
                        offset: false,
                        color: c => (xTicks[c.index] && xTicks[c.index].grid) ? '#282828' : 'rgba(0,0,0,0)',
                        lineWidth: 1,
                        drawTicks: false
                    },
                    border: { display: true, color: '#8c8c8c', width: 1, dash: [3, 3] },
                    ticks: {
                        autoSkip: false,
                        maxRotation: 0,
                        minRotation: 0,
                        align: 'start',
                        padding: 4,
                        color: '#ffffff',
                        font: c => {
                            const t = xTicks[c.index];
                            const bold = t && /^Nov/.test(t.label) && t.label !== 'Nov 7';
                            return { family: 'DejaVu Sans', size: 11, weight: bold ? 'bold' : 'normal' };
                        },
                        callback: (v, i) => xTicks[i] ? xTicks[i].label : ''
                    }
                },
                xs: {
                    type: 'linear',
                    position: 'bottom',
                    offset: false,
                    bounds: 'data',
                    min: -0.5, max: 361.5,
                    afterBuildTicks: s => { s.ticks = daySeparators.map(v => ({ value: v })); },
                    afterFit: s => { s.height = 0; noPad(s); },
                    grid: { offset: false, color: '#606060', lineWidth: 1, drawTicks: false },
                    border: { display: false, dash: [7, 4] },
                    ticks: { display: false }
                },
                y: {
                    type: 'linear',
                    position: 'right',
                    min: yMin, max: yMax,
                    afterBuildTicks: s => { s.ticks = priceTicks.slice(); },
                    afterFit: s => { s.width = 61; noPad(s); },
                    grid: { color: '#282828', lineWidth: 1, drawTicks: true, tickLength: 4, tickColor: '#8c8c8c' },
                    border: { display: true, color: '#8c8c8c', width: 1, dash: [3, 3] },
                    ticks: {
                        padding: 4,
                        color: '#e8e8e8',
                        font: { family: 'DejaVu Sans Mono', size: 10.5 },
                        callback: v => Number(v).toFixed(2)
                    }
                },
                ys: {
                    type: 'linear',
                    position: 'right',
                    min: yMin, max: yMax,
                    afterBuildTicks: s => { s.ticks = [{ value: markedPrice }]; },
                    afterFit: s => { s.width = 0; noPad(s); },
                    grid: { color: '#606060', lineWidth: 1, drawTicks: false },
                    border: { display: false, dash: [7, 4] },
                    ticks: { display: false }
                }
            }
        }
    });
});
</script>
</body>
</html>
